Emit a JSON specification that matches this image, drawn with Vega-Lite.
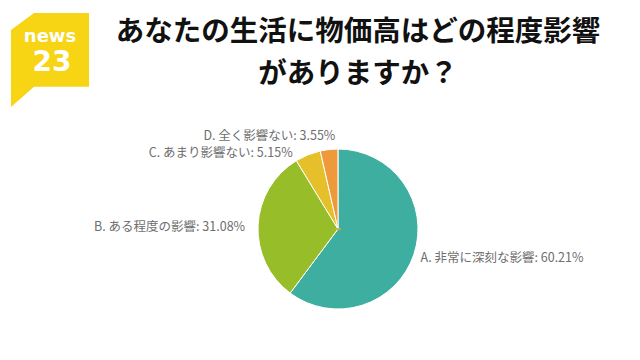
{
  "$schema": "https://vega.github.io/schema/vega-lite/v6.json",
  "padding": {"left": 10, "top": 13, "right": 0, "bottom": 0},
  "background": "white",
  "datasets": {
    "brand": [{"top": "news", "num": "23"}],
    "heading": [{"title": "あなたの生活に物価高はどの程度影響\nがありますか？"}],
    "answers": [
      {"cat": "A", "label": "A. 非常に深刻な影響: 60.21%", "value": 60.21},
      {"cat": "B", "label": "B. ある程度の影響: 31.08%", "value": 31.08},
      {"cat": "C", "label": "C. あまり影響ない: 5.15%", "value": 5.15},
      {"cat": "D", "label": "D. 全く影響ない: 3.55%", "value": 3.55}
    ]
  },
  "spacing": 0,
  "hconcat": [
    {
      "width": 78,
      "height": 94,
      "data": {"name": "brand"},
      "layer": [
        {
          "mark": {"type": "point", "shape": "M-0.83,-0.64L-0.34,-1L0.83,-1L0.83,0.57L-0.34,0.57L-0.83,1Z", "filled": true, "size": 8836, "color": "#F7D414", "opacity": 1, "strokeWidth": 0},
          "encoding": {}
        },
        {
          "mark": {"type": "text", "font": "DejaVu Sans", "fontWeight": "bold", "fontSize": 18, "color": "white", "baseline": "alphabetic", "align": "center", "dy": -18},
          "encoding": {"text": {"field": "top", "type": "nominal"}}
        },
        {
          "mark": {"type": "text", "font": "DejaVu Sans", "fontWeight": "bold", "fontSize": 28, "color": "white", "baseline": "alphabetic", "align": "center", "dy": 11, "dx": 2},
          "encoding": {"text": {"field": "num", "type": "nominal"}}
        }
      ]
    },
    {
      "spacing": 17,
      "vconcat": [
        {
          "width": 536,
          "height": 80,
          "data": {"name": "heading"},
          "mark": {"type": "text", "font": "Noto Sans CJK JP", "fontWeight": "bold", "fontSize": 28.5, "lineBreak": "\n", "lineHeight": 41.5, "color": "#111111", "baseline": "middle", "align": "center", "dy": -20.75},
          "encoding": {"text": {"field": "title", "type": "nominal"}}
        },
        {
          "width": 496,
          "height": 238,
          "data": {"name": "answers"},
          "encoding": {
            "theta": {"field": "value", "type": "quantitative", "stack": true, "scale": {"domain": [0, 100]}},
            "order": {"field": "cat", "type": "nominal", "sort": "ascending"}
          },
          "layer": [
            {
              "mark": {"type": "arc", "outerRadius": 80, "stroke": "white", "strokeWidth": 1},
              "encoding": {
                "color": {"field": "cat", "type": "nominal", "legend": null, "scale": {"domain": ["A", "B", "C", "D"], "range": ["#3DAEA0", "#97BE28", "#E6C02A", "#EE9A3A"]}}
              }
            },
            {
              "mark": {"type": "point", "shape": "stroke", "radius": 84, "size": 36, "strokeWidth": 1, "opacity": 0.8, "filled": false},
              "encoding": {
                "color": {"field": "cat", "type": "nominal", "legend": null}
              }
            },
            {
              "mark": {"type": "text", "radius": 86, "align": "left", "baseline": "middle", "dx": 1, "dy": 2, "font": "Noto Sans CJK JP", "fontSize": 12.5, "color": "#6E6E6E"},
              "encoding": {
                "detail": {"field": "cat", "type": "nominal"},
                "text": {"field": "label", "type": "nominal", "condition": {"test": "datum.cat !== 'A'", "value": ""}}
              }
            },
            {
              "mark": {"type": "text", "radius": 86, "align": "right", "baseline": "middle", "dx": -7, "dy": 2, "font": "Noto Sans CJK JP", "fontSize": 12.5, "color": "#6E6E6E"},
              "encoding": {
                "detail": {"field": "cat", "type": "nominal"},
                "text": {"field": "label", "type": "nominal", "condition": {"test": "datum.cat !== 'B'", "value": ""}}
              }
            },
            {
              "mark": {"type": "text", "radius": 86, "align": "right", "baseline": "middle", "dx": -13, "dy": 4, "font": "Noto Sans CJK JP", "fontSize": 12.5, "color": "#6E6E6E"},
              "encoding": {
                "detail": {"field": "cat", "type": "nominal"},
                "text": {"field": "label", "type": "nominal", "condition": {"test": "datum.cat !== 'C'", "value": ""}}
              }
            },
            {
              "mark": {"type": "text", "radius": 86, "align": "right", "baseline": "middle", "dx": 7, "dy": -8, "font": "Noto Sans CJK JP", "fontSize": 12.5, "color": "#6E6E6E"},
              "encoding": {
                "detail": {"field": "cat", "type": "nominal"},
                "text": {"field": "label", "type": "nominal", "condition": {"test": "datum.cat !== 'D'", "value": ""}}
              }
            }
          ]
        }
      ]
    }
  ],
  "config": {"view": {"stroke": null}}
}
